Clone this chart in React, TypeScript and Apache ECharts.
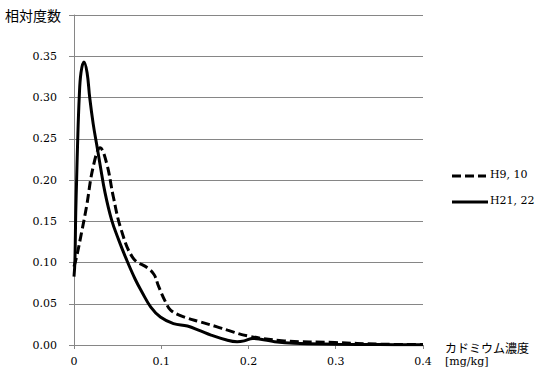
import React, { useEffect, useRef } from "react";
import * as echarts from "echarts";

const seriesNames = ["H9, 10", "H21, 22"];

const h9x = [0, 0.003, 0.0086, 0.0144, 0.022, 0.030, 0.0375, 0.045, 0.054, 0.068, 0.085, 0.092, 0.097, 0.105, 0.111, 0.126, 0.145, 0.164, 0.176, 0.199, 0.241, 0.299, 0.35, 0.40];
const h9y = [0.095, 0.107, 0.136, 0.168, 0.216, 0.239, 0.220, 0.180, 0.140, 0.105, 0.093, 0.085, 0.071, 0.052, 0.042, 0.034, 0.028, 0.022, 0.018, 0.011, 0.005, 0.003, 0.001, 0.0005];

const h21x = [0, 0.001, 0.002, 0.003, 0.004, 0.006, 0.008, 0.0114, 0.015, 0.018, 0.022, 0.026, 0.030, 0.0355, 0.043, 0.051, 0.060, 0.070, 0.078, 0.088, 0.099, 0.114, 0.130, 0.145, 0.157, 0.175, 0.187, 0.195, 0.205, 0.214, 0.23, 0.252, 0.30, 0.35, 0.40];
const h21y = [0.083, 0.10, 0.16, 0.20, 0.24, 0.30, 0.33, 0.343, 0.33, 0.30, 0.268, 0.243, 0.218, 0.185, 0.152, 0.128, 0.104, 0.080, 0.064, 0.046, 0.034, 0.026, 0.023, 0.017, 0.012, 0.006, 0.004, 0.005, 0.008, 0.007, 0.004, 0.002, 0.001, 0.0005, 0.0003];

const yTickLabels = ["0.00", "0.05", "0.10", "0.15", "0.20", "0.25", "0.30", "0.35"];
const xTickLabels = ["0", "0.1", "0.2", "0.3", "0.4"];

const yTitle = "相対度数";
const xTitle = "カドミウム濃度";
const xUnit = "[mg/kg]";

const serif = "'DejaVu Serif', 'Liberation Serif', serif";
const cjk = "'Noto Sans CJK JP', 'Noto Sans', sans-serif";
const dash = [9, 4];

export default function App() {
  const ref = useRef<HTMLDivElement>(null);
  useEffect(() => {
    if (!ref.current) return;
    const chart = echarts.init(ref.current, undefined, { renderer: "svg" });
    const pairs = (xs: number[], ys: number[]) => xs.map((x, i) => [x, ys[i]]);
    chart.setOption({
      animation: false,
      backgroundColor: "#fff",
      title: {
        text: yTitle,
        left: 5,
        top: 8,
        padding: 0,
        textStyle: { fontFamily: cjk, fontSize: 14, fontWeight: "normal", color: "#000" },
      },
      grid: { left: 74, right: 123, top: 15, bottom: 33, containLabel: false },
      xAxis: {
        type: "value",
        min: 0,
        max: 0.4,
        interval: 0.1,
        axisLine: { show: true, lineStyle: { color: "#868686", width: 1 } },
        axisTick: { show: true, length: 4, lineStyle: { color: "#868686" } },
        splitLine: { show: false },
        axisLabel: {
          margin: 11,
          fontFamily: serif,
          fontSize: 11,
          color: "#000",
          formatter: (v: number) => xTickLabels[Math.round(v * 10)] ?? "",
        },
      },
      yAxis: {
        type: "value",
        min: 0,
        max: 0.4,
        interval: 0.05,
        axisLine: { show: true, lineStyle: { color: "#868686", width: 1 } },
        axisTick: { show: true, length: 5, lineStyle: { color: "#868686" } },
        splitLine: { show: true, lineStyle: { color: "#868686", width: 1 } },
        axisLabel: {
          margin: 17,
          fontFamily: serif,
          fontSize: 11,
          color: "#000",
          formatter: (v: number) => yTickLabels[Math.round(v * 20)] ?? "",
        },
      },
      graphic: [
        {
          type: "text",
          left: 445,
          top: 341,
          style: { text: xTitle, font: `12px ${cjk}`, fill: "#000" },
        },
        {
          type: "text",
          left: 445,
          top: 356,
          style: { text: xUnit, font: `11px ${serif}`, fill: "#000" },
        },
        {
          type: "line",
          shape: { x1: 452, y1: 176, x2: 486, y2: 176 },
          style: { stroke: "#000", lineWidth: 3, lineDash: dash },
        },
        {
          type: "text",
          left: 490,
          top: 169,
          style: { text: seriesNames[0], font: `11px ${serif}`, fill: "#000" },
        },
        {
          type: "line",
          shape: { x1: 452, y1: 202, x2: 488, y2: 202 },
          style: { stroke: "#000", lineWidth: 3 },
        },
        {
          type: "text",
          left: 490,
          top: 195,
          style: { text: seriesNames[1], font: `11px ${serif}`, fill: "#000" },
        },
      ],
      series: [
        {
          name: seriesNames[0],
          type: "line",
          data: pairs(h9x, h9y),
          smooth: 0.4,
          showSymbol: false,
          symbol: "none",
          lineStyle: { color: "#000", width: 3, type: dash },
          itemStyle: { color: "#000" },
        },
        {
          name: seriesNames[1],
          type: "line",
          data: pairs(h21x, h21y),
          smooth: 0.4,
          showSymbol: false,
          symbol: "none",
          lineStyle: { color: "#000", width: 3 },
          itemStyle: { color: "#000" },
        },
      ],
    });
    return () => chart.dispose();
  }, []);
  return <div ref={ref} style={{ width: 546, height: 378, position: "absolute", left: 0, top: 0 }} />;
}
